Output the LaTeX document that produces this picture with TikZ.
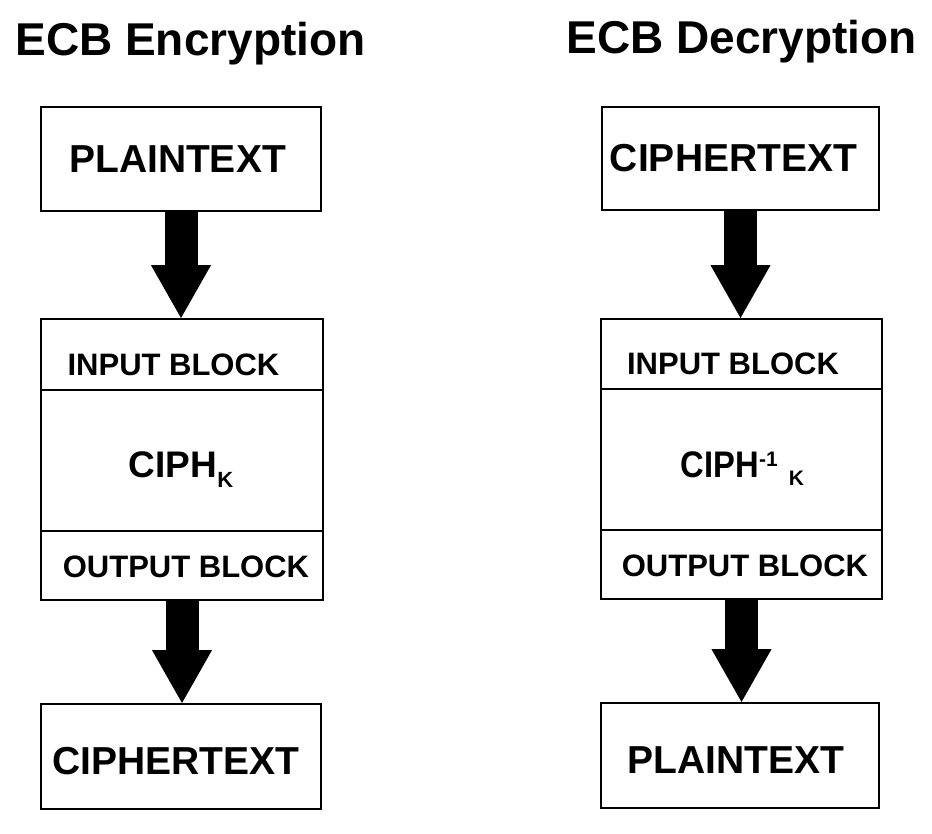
\documentclass[tikz,border=0pt]{standalone}
\usepackage{fontspec}
\setmainfont{Liberation Sans}
\usepackage{graphicx}
\usetikzlibrary{arrows.meta,calc}

\begin{document}
\begin{tikzpicture}[x=1pt,y=-1pt, %ECB
		blk/.style={draw,line width=1.2pt,inner sep=0pt,outer sep=0pt},
		head/.style={anchor=base,inner sep=0pt,font=\bfseries\fontsize{46}{46}\selectfont},
		txt/.style={anchor=base,inner sep=0pt,font=\bfseries\fontsize{39}{39}\selectfont},
		lbl/.style={anchor=base,inner sep=0pt,font=\bfseries\fontsize{31}{31}\selectfont},
		ciphtxt/.style={anchor=base,inner sep=0pt,font=\bfseries\fontsize{37}{37}\selectfont},
		fat/.style={line width=33pt,-{Triangle[width=56pt,length=54pt]}}]
		\useasboundingbox (0,0) rectangle (932,833);
		% Verschluesselung
		\node[head] (titleL) at (190.5,55) {ECB Encryption};
		\node[blk,minimum width=280pt,minimum height=104pt] (plainL) at (181,159) {};
		\node[blk,minimum width=282pt,minimum height=71pt] (inL) at (182,354.5) {};
		\node[blk,minimum width=282pt,minimum height=141pt] (ciphL) at (182,460.5) {};
		\node[blk,minimum width=282pt,minimum height=69pt] (outL) at (182,565.5) {};
		\node[blk,minimum width=280pt,minimum height=105pt] (cipherL) at (181,756.5) {};
		\node[txt] (plainLtxt) at (177.5,172) {PLAINTEXT};
		\node[lbl] (inLtxt) at (173.5,375) {INPUT BLOCK};
		\node[ciphtxt] (ciphLtxt) at (181,477) {CIPH\raisebox{-10pt}{\fontsize{22}{22}\selectfont K}};
		\node[lbl] (outLtxt) at (186,577) {OUTPUT BLOCK};
		\node[txt] (cipherLtxt) at (176,774) {CIPHERTEXT};
		\draw[fat] (plainL.south) -- (plainL.south |- inL.north);
		\draw[fat] (outL.south) -- (outL.south |- cipherL.north);
		% Entschluesselung
		\node[head] (titleR) at (741.5,53) {ECB Decryption};
		\node[blk,minimum width=277pt,minimum height=103pt] (cipherR) at (740.5,158.5) {};
		\node[blk,minimum width=281pt,minimum height=70pt] (inR) at (741.5,354) {};
		\node[blk,minimum width=281pt,minimum height=141pt] (ciphR) at (741.5,459.5) {};
		\node[blk,minimum width=281pt,minimum height=69pt] (outR) at (741.5,564.5) {};
		\node[blk,minimum width=278pt,minimum height=105pt] (plainR) at (740,755.5) {};
		\node[txt] (cipherRtxt) at (733.5,171) {CIPHERTEXT};
		\node[lbl] (inRtxt) at (733,374) {INPUT BLOCK};
		\node[ciphtxt] (ciphRtxt) at (742.5,477) {\scalebox{0.885}[1]{CIPH}\raisebox{11pt}{\fontsize{21}{21}\selectfont -1}\hspace{11pt}\raisebox{-8pt}{\fontsize{21}{21}\selectfont K}};
		\node[lbl] (outRtxt) at (745,576) {OUTPUT BLOCK};
		\node[txt] (plainRtxt) at (736,773) {PLAINTEXT};
		\draw[fat] (cipherR.south) -- (cipherR.south |- inR.north);
		\draw[fat] (outR.south) -- (outR.south |- plainR.north);
		\end{tikzpicture}
\end{document}
